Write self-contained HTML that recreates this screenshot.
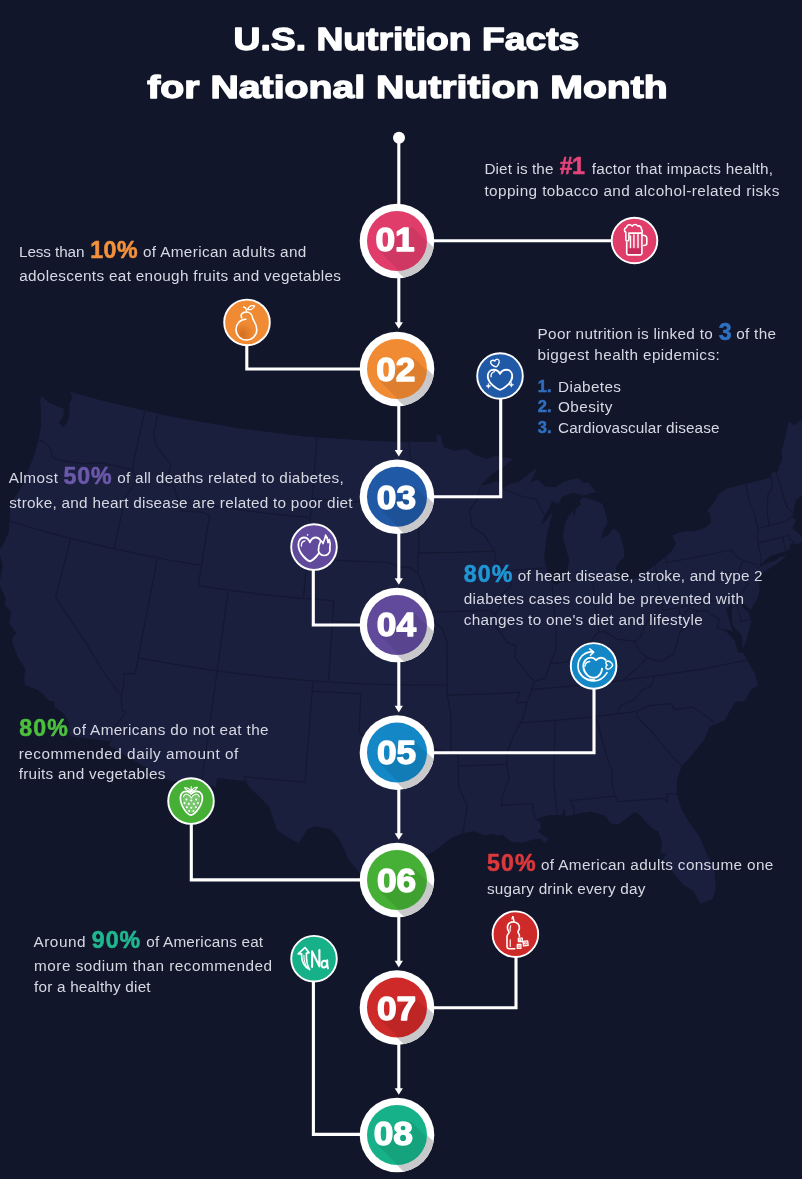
<!DOCTYPE html>
<html><head><meta charset="utf-8"><title>U.S. Nutrition Facts</title>
<style>
html,body{margin:0;padding:0;background:#12162b;}
body{width:802px;height:1179px;overflow:hidden;font-family:"Liberation Sans",sans-serif;}
svg{display:block;will-change:transform;font-family:"Liberation Sans",sans-serif;}
.t{fill:#d6d8e2;font-size:15.3px;}
.b{font-weight:bold;font-size:23.2px;stroke-width:0.55px;stroke-linejoin:round;}
.n{fill:#fff;stroke:#fff;stroke-width:1.3px;stroke-linejoin:round;font-weight:bold;font-size:32.4px;}
.h{fill:#fff;stroke:#fff;stroke-width:1.3px;stroke-linejoin:round;font-weight:bold;font-size:31.5px;}
</style></head><body>
<svg width="802" height="1179" viewBox="0 0 802 1179">
<rect width="802" height="1179" fill="#12162b"/>
<g fill="#1b1f3e"><path d="M41.5 396.2 L48.4 402.1 L57.2 406.2 L63.5 408.7 L63.5 416.0 L58.7 422.9 L63.1 427.3 L68.0 420.4 L69.8 411.5 L69.1 404.0 L72.4 397.7 L70.1 391.8 L106.1 401.7 L171.6 416.7 L237.8 428.3 L304.5 436.4 L371.5 441.0 L411.8 442.0 L436.6 442.0 L436.6 434.5 L440.6 435.6 L443.4 447.0 L455.0 450.7 L466.4 449.0 L475.4 455.1 L486.5 459.2 L495.9 455.7 L506.9 457.9 L513.2 459.1 L503.4 466.7 L491.4 474.4 L480.1 486.0 L491.8 483.1 L497.3 480.8 L502.6 488.3 L510.0 484.0 L519.5 481.4 L528.7 474.0 L537.2 467.9 L532.5 477.8 L530.1 482.4 L537.5 479.4 L545.1 486.4 L555.7 487.2 L564.2 481.5 L577.8 477.9 L584.1 483.3 L588.2 482.2 L591.6 486.8 L595.7 491.4 L600.7 491.7 L590.9 493.0 L583.9 495.5 L572.5 492.7 L562.3 496.6 L558.0 503.8 L552.1 501.3 L548.6 508.7 L544.6 515.6 L540.7 525.6 L546.7 520.0 L553.0 510.7 L549.3 524.9 L547.2 533.2 L545.6 543.5 L544.1 556.9 L546.7 569.9 L550.7 580.8 L555.6 585.0 L561.3 582.0 L566.5 574.2 L569.3 560.6 L566.7 550.7 L562.9 537.8 L565.1 523.4 L568.6 515.9 L573.1 510.7 L573.9 518.4 L575.7 509.0 L580.9 504.3 L579.7 500.4 L583.9 497.3 L591.7 499.4 L602.3 503.7 L604.5 509.5 L607.7 522.4 L603.6 530.1 L601.0 538.6 L607.3 535.7 L613.6 528.3 L619.4 533.0 L623.9 548.8 L624.3 556.9 L619.0 562.2 L616.3 566.3 L615.8 571.4 L612.7 576.6 L623.1 580.7 L632.1 579.4 L639.3 577.3 L650.1 568.4 L660.9 560.5 L671.4 551.5 L675.9 543.4 L672.3 535.4 L682.7 531.4 L693.1 531.5 L704.4 528.2 L710.8 522.8 L710.4 513.9 L706.8 511.0 L713.9 502.8 L719.2 493.4 L726.2 488.7 L745.7 484.1 L771.2 477.3 L771.5 473.0 L778.9 470.4 L778.7 466.9 L782.4 459.0 L781.3 449.9 L783.5 444.7 L788.7 421.5 L794.6 425.2 L801.6 419.8 L809.9 423.4 L816.8 444.8 L823.3 450.2 L825.8 458.3 L833.6 461.8 L827.8 472.1 L819.6 479.8 L811.2 479.2 L810.0 488.0 L801.6 495.6 L796.0 499.9 L793.2 511.7 L792.4 517.1 L796.3 520.3 L792.2 527.7 L799.3 534.2 L802.4 536.9 L808.9 535.1 L806.8 530.4 L804.4 530.3 L809.7 532.4 L811.0 536.9 L801.6 542.4 L795.2 544.8 L790.2 543.6 L790.1 548.9 L785.1 551.2 L770.2 556.1 L760.5 564.5 L756.7 571.2 L757.9 576.2 L759.7 590.4 L756.9 599.0 L750.6 609.7 L743.6 603.5 L738.5 598.3 L743.0 607.8 L748.9 612.8 L751.3 622.0 L746.7 639.3 L742.8 649.1 L741.7 635.2 L732.2 624.7 L732.0 612.2 L732.4 602.8 L725.8 609.4 L727.8 615.2 L731.1 627.0 L733.4 631.9 L723.4 628.6 L734.8 640.8 L738.1 652.6 L743.1 653.0 L747.1 660.1 L755.1 674.0 L758.0 685.2 L751.0 690.1 L744.5 701.2 L735.1 702.1 L724.3 720.4 L709.4 726.7 L704.7 738.9 L696.3 749.6 L688.5 759.2 L681.8 765.8 L677.0 779.5 L676.6 793.9 L678.6 800.7 L681.7 809.5 L689.1 822.6 L699.4 836.3 L705.6 851.5 L714.3 868.4 L715.7 887.9 L712.6 899.1 L700.2 903.7 L693.5 891.0 L684.3 885.4 L677.7 878.2 L673.2 872.8 L667.4 863.9 L663.0 859.1 L666.8 853.5 L660.4 853.3 L662.4 841.9 L658.2 831.3 L653.5 829.3 L646.4 822.7 L640.0 814.8 L634.4 812.1 L628.8 816.8 L618.2 824.2 L611.0 823.6 L604.9 815.5 L590.4 811.4 L578.3 813.5 L566.3 816.2 L563.9 808.3 L561.9 815.0 L548.7 815.0 L539.3 817.7 L536.9 820.5 L540.6 822.7 L540.9 828.3 L537.6 831.6 L548.8 838.9 L545.5 843.2 L539.9 838.5 L531.1 840.1 L524.2 842.5 L513.6 842.5 L508.1 839.4 L502.6 834.6 L497.4 835.8 L492.9 834.0 L485.0 835.3 L474.3 831.2 L463.0 832.9 L453.4 837.1 L446.4 841.3 L437.6 848.8 L425.2 856.5 L417.2 860.5 L409.1 866.5 L403.6 873.5 L399.9 881.5 L400.3 891.5 L404.1 906.6 L404.1 908.4 L397.6 909.9 L384.9 905.8 L368.6 898.8 L362.8 881.5 L362.1 875.5 L348.4 859.8 L345.2 851.6 L338.8 838.2 L330.5 829.2 L314.9 826.1 L307.6 829.2 L298.7 843.1 L284.2 835.5 L276.8 829.4 L273.3 819.3 L269.2 806.8 L259.7 797.1 L250.3 788.2 L245.5 781.3 L216.9 777.9 L215.8 786.9 L166.9 779.9 L108.4 745.3 L110.6 741.2 L70.0 736.5 L68.8 729.6 L69.2 722.4 L63.5 713.7 L57.0 708.7 L54.5 706.8 L54.3 701.8 L48.7 700.4 L42.6 693.7 L36.9 689.5 L24.8 685.3 L24.2 675.7 L25.6 670.8 L22.9 664.8 L18.1 657.8 L12.1 642.8 L13.0 636.7 L16.7 632.5 L13.4 629.4 L9.4 623.0 L10.9 611.8 L4.7 604.7 L5.7 598.6 L-0.6 584.0 L1.5 571.9 L2.8 564.8 L-1.7 550.7 L3.3 544.8 L8.9 531.6 L9.0 526.3 L10.1 514.9 L10.5 503.8 L17.4 493.8 L23.7 483.0 L27.9 470.9 L34.6 454.6 L38.4 439.9 L40.0 432.0 L41.1 426.1 L41.0 412.4 L40.1 400.1Z"/><path d="M756.8 573.7 L763.2 572.2 L778.1 562.9 L786.4 556.2 L779.7 556.8 L775.3 560.9 L768.7 562.7 L759.6 567.0 L757.5 570.0Z"/></g>
<path fill="none" stroke="#141831" stroke-width="1.2" stroke-linejoin="round" d="M38.4 439.9 L46.1 443.3 L51.4 450.1 L51.8 456.5 L58.8 460.2 L72.9 462.4 L82.8 463.6 L96.1 462.9 L104.7 463.4 L133.2 470.1M144.9 411.0 L133.6 461.5 L133.2 470.1 L136.1 481.0 L129.6 491.0 L122.2 500.7 L122.1 512.1 L113.9 548.7M9.0 521.0 L40.7 530.3 L72.5 538.8 L104.5 546.6 L136.7 553.7 L169.0 560.0 L201.5 565.5M70.8 538.4 L55.5 597.5 L81.6 636.4 L103.3 671.5 L121.1 696.0M157.4 557.8 L135.1 673.8 L123.6 673.6 L123.6 686.1 L121.1 696.0 L122.1 710.7 L126.0 712.1 L118.1 722.4 L113.2 729.7 L110.6 741.2M138.2 657.8 L172.1 663.9 L206.3 669.3 L240.5 673.9 L274.8 677.7 L309.2 680.7 L343.7 682.9 L378.2 684.4 L412.7 685.0 L447.3 684.9M228.3 590.1 L201.3 785.0M209.5 515.5 L198.3 585.6 L232.0 590.6 L265.8 594.8 L299.7 598.1 L333.7 600.7M157.8 413.9 L153.6 433.4 L156.0 445.2 L164.8 457.2 L171.1 464.6 L165.0 485.0 L173.5 485.6 L177.0 497.5 L181.9 510.8 L192.0 511.5 L203.5 512.4 L209.5 515.5M211.1 505.5 L244.1 510.3 L277.2 514.4 L310.4 517.6M317.2 437.5 L303.5 598.4M333.7 600.7 L328.5 682.0M313.3 681.0 L312.2 691.1 L305.0 782.3 L244.3 776.7 L245.5 781.3M312.2 691.1 L360.8 693.9 L359.1 733.4 L372.1 740.2 L383.7 743.6 L393.5 748.3 L405.2 750.1 L416.9 750.6 L433.5 748.6 L450.3 753.1 L458.0 755.0 L458.7 786.4 L463.0 796.5 L467.5 806.5 L464.9 820.7 L463.0 832.9M312.0 498.7 L347.0 501.2 L382.2 502.8 L417.3 503.4M306.9 557.9 L347.6 560.8 L388.4 562.5 L397.2 566.3 L410.4 567.9 L417.8 573.1M332.4 621.0 L366.9 622.8 L401.4 623.8 L435.9 623.9M408.7 442.0 L410.2 458.0 L414.2 476.1 L414.7 490.1 L417.3 503.4 L413.2 510.3 L418.8 516.4 L418.6 552.8 L417.8 573.1 L423.7 587.3 L426.7 599.5 L427.5 611.7 L435.9 623.9 L442.1 627.9 L447.0 641.7 L447.4 695.1 L450.9 717.5 L450.6 753.3M418.6 552.8 L456.8 552.4 L495.0 551.1M428.7 612.1 L459.5 611.3 L490.2 610.3 L495.1 614.5M447.4 695.1 L483.4 694.2 L519.4 692.4 L516.4 702.8 L527.3 702.1M458.2 766.2 L506.6 764.4M480.2 487.0 L477.2 499.2 L469.8 509.6 L471.8 526.7 L484.4 535.3 L494.5 551.1 L495.8 561.2 L504.4 570.9 L512.0 584.7 L499.8 596.6 L499.7 607.8 L495.1 614.5 L494.4 624.4 L506.9 642.1 L515.7 645.6 L514.9 657.9 L528.7 675.4 L534.7 681.2 L531.4 691.6 L527.3 702.1 L522.4 720.2 L514.4 733.5 L507.1 752.2 L506.6 764.4 L509.3 778.5 L502.5 795.1 L501.2 805.3 L533.5 803.5 L532.8 811.6 L536.9 819.9M503.3 488.9 L522.0 496.3 L536.4 499.3 L541.6 510.4 L544.6 515.6M504.4 570.9 L546.6 567.9M551.9 582.5 L556.3 631.4 L555.9 648.8 L551.5 661.4 L550.1 663.6M534.7 681.2 L544.9 678.3 L550.1 663.6 L565.9 662.2 L574.9 657.2 L586.0 649.9 L590.5 640.8 L598.6 632.1 L604.3 631.4 L617.1 639.1 L634.8 641.4 L640.5 636.9 L645.6 623.7 L657.7 611.1 L659.7 591.8M598.8 632.1 L592.5 579.5M556.8 582.1 L592.4 578.3 L612.7 576.6M530.5 689.6 L572.0 686.2 L613.4 681.6 L654.7 676.0 L700.9 669.3 L746.8 660.2M518.8 723.0 L558.1 720.2 L597.3 716.3 L636.5 711.5M654.7 676.2 L651.0 686.4 L641.7 690.2 L634.8 699.4 L620.8 705.3 L616.6 714.1M553.2 720.6 L555.0 722.5 L553.8 783.7 L557.5 814.9M595.7 716.5 L607.5 758.8 L611.9 769.9 L612.4 786.2 L614.9 796.1 L618.0 801.8 L641.6 799.9 L664.2 798.4 L667.4 802.4 L667.0 793.7 L676.6 793.9M570.2 800.7 L614.9 796.1M570.2 800.7 L574.4 808.4 L573.2 814.6M681.8 765.8 L671.6 755.7 L661.1 742.9 L646.9 726.5 L637.2 716.5 L636.5 711.5 L648.9 705.6 L669.3 703.6 L671.4 704.3 L674.4 709.6 L692.9 706.9 L714.5 722.2M622.8 680.4 L637.0 668.2 L647.2 657.7 L639.4 651.4 L634.8 641.4M647.2 657.7 L660.2 661.7 L673.6 654.4 L680.1 631.6 L691.2 624.4 L696.9 610.9 L706.8 610.7 L711.0 614.4 L719.1 619.1 L716.9 627.8 L723.6 629.6 L733.4 631.9M654.2 558.5 L662.8 610.3 L698.7 604.0 L734.4 596.7 L741.2 621.5 L751.2 619.5M678.6 607.6 L680.4 618.1 L689.3 608.2 L696.9 610.9M734.4 596.7 L736.7 593.7 L739.6 593.9M665.5 557.2 L666.4 562.6 L698.8 556.7 L731.0 550.0 L737.1 556.9 L743.3 560.5 L738.7 569.5 L739.1 576.3 L747.9 583.7 L743.2 591.0 L738.5 598.3M743.3 560.5 L756.8 565.0M760.5 564.5 L761.2 557.6 L757.8 542.8 L757.6 528.2 L753.8 511.3 L749.8 504.0 L745.7 484.1M757.9 543.2 L788.4 535.4 L789.1 538.0 L792.8 541.6 L794.9 544.9M782.4 537.2 L785.6 549.4 L785.1 551.2M757.7 528.6 L785.9 521.4 L790.8 516.9 L792.3 516.7M769.3 525.7 L767.3 514.3 L767.6 503.7 L767.7 495.3 L772.5 487.8 L771.2 477.3M792.6 512.2 L786.9 507.0 L781.5 489.6 L775.5 470.3"/>
<text class="h" x="233.6" y="50.3" textLength="345.7" lengthAdjust="spacingAndGlyphs">U.S. Nutrition Facts</text>
<text class="h" x="147.3" y="97.8" textLength="520.5" lengthAdjust="spacingAndGlyphs">for National Nutrition Month</text>
<g stroke="#fff" stroke-width="3.1" fill="none" stroke-linejoin="miter">
<path d="M398.8 137.7V241.0"/>
<path d="M398.8 241.0V323.1"/>
<path d="M398.8 369.0V450.9"/>
<path d="M398.8 496.8V579.1"/>
<path d="M398.8 625.0V706.7"/>
<path d="M398.8 752.6V834.1"/>
<path d="M398.8 880.0V961.7"/>
<path d="M398.8 1007.6V1089.1"/>
<path d="M397.0 240.7H634.5"/>
<path d="M246.8 322.4V369.0H397.0"/>
<path d="M313.3 547.1V625.0H397.0"/>
<path d="M191.3 801.1V879.9H397.0"/>
<path d="M313.4 958.7V1134.4H397.0"/>
<path d="M397.0 496.8H500.7V376.0"/>
<path d="M397.0 752.7H594.0V665.9"/>
<path d="M397.0 1007.8H516.0V934.2"/>
</g>
<circle cx="399" cy="137.7" r="6" fill="#fff"/>
<path fill="#fff" d="M394.7 322.2H402.90000000000003L398.8 328.8Z"/>
<path fill="#fff" d="M394.7 450.0H402.90000000000003L398.8 456.6Z"/>
<path fill="#fff" d="M394.7 578.2H402.90000000000003L398.8 584.8Z"/>
<path fill="#fff" d="M394.7 705.8H402.90000000000003L398.8 712.4Z"/>
<path fill="#fff" d="M394.7 833.2H402.90000000000003L398.8 839.8Z"/>
<path fill="#fff" d="M394.7 960.8H402.90000000000003L398.8 967.4Z"/>
<path fill="#fff" d="M394.7 1088.2H402.90000000000003L398.8 1094.8Z"/>
<defs>
<clipPath id="co0"><circle cx="397.0" cy="241.0" r="37.3"/></clipPath><clipPath id="ci0"><circle cx="397.0" cy="241.0" r="30"/></clipPath>
<clipPath id="co1"><circle cx="397.0" cy="369.0" r="37.3"/></clipPath><clipPath id="ci1"><circle cx="397.0" cy="369.0" r="30"/></clipPath>
<clipPath id="co2"><circle cx="397.0" cy="496.8" r="37.3"/></clipPath><clipPath id="ci2"><circle cx="397.0" cy="496.8" r="30"/></clipPath>
<clipPath id="co3"><circle cx="397.0" cy="625.0" r="37.3"/></clipPath><clipPath id="ci3"><circle cx="397.0" cy="625.0" r="30"/></clipPath>
<clipPath id="co4"><circle cx="397.0" cy="752.6" r="37.3"/></clipPath><clipPath id="ci4"><circle cx="397.0" cy="752.6" r="30"/></clipPath>
<clipPath id="co5"><circle cx="397.0" cy="880.0" r="37.3"/></clipPath><clipPath id="ci5"><circle cx="397.0" cy="880.0" r="30"/></clipPath>
<clipPath id="co6"><circle cx="397.0" cy="1007.6" r="37.3"/></clipPath><clipPath id="ci6"><circle cx="397.0" cy="1007.6" r="30"/></clipPath>
<clipPath id="co7"><circle cx="397.0" cy="1135.0" r="37.3"/></clipPath><clipPath id="ci7"><circle cx="397.0" cy="1135.0" r="30"/></clipPath>
</defs>
<circle cx="397.0" cy="241.0" r="37.3" fill="#fff"/>
<path clip-path="url(#co0)" fill="#c9c9cb" d="M427.0 241.0l40 40l-30 30l-40 -40Z"/>
<circle cx="397.0" cy="241.0" r="30" fill="#e03d6b"/>
<path clip-path="url(#ci0)" fill="#000" fill-opacity="0.08" d="M412.5 227.1l45 45l-34 23l-45 -45Z"/>
<text class="n" x="375.4" y="250.5" textLength="39.2" lengthAdjust="spacingAndGlyphs">01</text>
<circle cx="397.0" cy="369.0" r="37.3" fill="#fff"/>
<path clip-path="url(#co1)" fill="#c9c9cb" d="M427.0 369.0l40 40l-30 30l-40 -40Z"/>
<circle cx="397.0" cy="369.0" r="30" fill="#f08a33"/>
<path clip-path="url(#ci1)" fill="#000" fill-opacity="0.08" d="M413.3 357.5l45 45l-34 23l-45 -45Z"/>
<text class="n" x="376.2" y="380.9" textLength="39.2" lengthAdjust="spacingAndGlyphs">02</text>
<circle cx="397.0" cy="496.8" r="37.3" fill="#fff"/>
<path clip-path="url(#co2)" fill="#c9c9cb" d="M427.0 496.8l40 40l-30 30l-40 -40Z"/>
<circle cx="397.0" cy="496.8" r="30" fill="#205aa7"/>
<path clip-path="url(#ci2)" fill="#000" fill-opacity="0.08" d="M413.9 485.7l45 45l-34 23l-45 -45Z"/>
<text class="n" x="376.8" y="509.1" textLength="39.2" lengthAdjust="spacingAndGlyphs">03</text>
<circle cx="397.0" cy="625.0" r="37.3" fill="#fff"/>
<path clip-path="url(#co3)" fill="#c9c9cb" d="M427.0 625.0l40 40l-30 30l-40 -40Z"/>
<circle cx="397.0" cy="625.0" r="30" fill="#614a9c"/>
<path clip-path="url(#ci3)" fill="#000" fill-opacity="0.08" d="M413.9 612.4l45 45l-34 23l-45 -45Z"/>
<text class="n" x="376.8" y="635.8" textLength="39.2" lengthAdjust="spacingAndGlyphs">04</text>
<circle cx="397.0" cy="752.6" r="37.3" fill="#fff"/>
<path clip-path="url(#co4)" fill="#c9c9cb" d="M427.0 752.6l40 40l-30 30l-40 -40Z"/>
<circle cx="397.0" cy="752.6" r="30" fill="#1487c6"/>
<path clip-path="url(#ci4)" fill="#000" fill-opacity="0.08" d="M414.1 740.7l45 45l-34 23l-45 -45Z"/>
<text class="n" x="377.0" y="764.1" textLength="39.2" lengthAdjust="spacingAndGlyphs">05</text>
<circle cx="397.0" cy="880.0" r="37.3" fill="#fff"/>
<path clip-path="url(#co5)" fill="#c9c9cb" d="M427.0 880.0l40 40l-30 30l-40 -40Z"/>
<circle cx="397.0" cy="880.0" r="30" fill="#45b035"/>
<path clip-path="url(#ci5)" fill="#000" fill-opacity="0.08" d="M414.1 868.2l45 45l-34 23l-45 -45Z"/>
<text class="n" x="377.0" y="891.6" textLength="39.2" lengthAdjust="spacingAndGlyphs">06</text>
<circle cx="397.0" cy="1007.6" r="37.3" fill="#fff"/>
<path clip-path="url(#co6)" fill="#c9c9cb" d="M427.0 1007.6l40 40l-30 30l-40 -40Z"/>
<circle cx="397.0" cy="1007.6" r="30" fill="#cf2a2a"/>
<path clip-path="url(#ci6)" fill="#000" fill-opacity="0.08" d="M414.0 996.5l45 45l-34 23l-45 -45Z"/>
<text class="n" x="376.9" y="1019.9" textLength="39.2" lengthAdjust="spacingAndGlyphs">07</text>
<circle cx="397.0" cy="1135.0" r="37.3" fill="#fff"/>
<path clip-path="url(#co7)" fill="#c9c9cb" d="M427.0 1135.0l40 40l-30 30l-40 -40Z"/>
<circle cx="397.0" cy="1135.0" r="30" fill="#17b189"/>
<path clip-path="url(#ci7)" fill="#000" fill-opacity="0.08" d="M410.8 1121.2l45 45l-34 23l-45 -45Z"/>
<text class="n" x="373.7" y="1144.6" textLength="39.2" lengthAdjust="spacingAndGlyphs">08</text>
<circle cx="634.5" cy="240.5" r="22.8" fill="#e03d6b" stroke="#fff" stroke-width="1.9"/>
<circle cx="247.0" cy="322.4" r="22.8" fill="#f08a33" stroke="#fff" stroke-width="1.9"/>
<circle cx="500.0" cy="376.0" r="22.8" fill="#205aa7" stroke="#fff" stroke-width="1.9"/>
<circle cx="314.0" cy="547.1" r="22.8" fill="#614a9c" stroke="#fff" stroke-width="1.9"/>
<circle cx="593.6" cy="665.9" r="22.8" fill="#1487c6" stroke="#fff" stroke-width="1.9"/>
<circle cx="191.0" cy="801.1" r="22.8" fill="#45b035" stroke="#fff" stroke-width="1.9"/>
<circle cx="515.4" cy="934.2" r="22.8" fill="#cf2a2a" stroke="#fff" stroke-width="1.9"/>
<circle cx="314.0" cy="958.7" r="22.8" fill="#17b189" stroke="#fff" stroke-width="1.9"/>
<g transform="translate(634.5,240.5)" fill="none" stroke="#fff" stroke-width="1.5" stroke-linecap="round" stroke-linejoin="round">
<path d="M-7.3,8h14v4.8a1.5,1.5 0 0 1 -1.5,1.5h-11a1.5,1.5 0 0 1 -1.5,-1.5z" fill="#c42a5a" stroke="none"/>
<path d="M-7.8,2V12.6a1.8,1.8 0 0 0 1.8,1.8H5.6a1.8,1.8 0 0 0 1.8,-1.8V-7.8" stroke-width="1.6"/>
<path d="M7.4,-5.2C10,-5.6 12.3,-4.6 12.3,-2.4V3C12.3,4.6 10.5,5 9.2,5" stroke-width="1.6"/>
<path d="M-4,-4.6V7M-0.6,-5.6V7M3.5,-6.2V7" stroke-width="1.4"/>
<path d="M-5.6,-7.4v6.4a1.55,1.55 0 0 1 -3.1,0V-8.2a2.6,2.6 0 0 1 0.6,-4.8a3.2,3.2 0 0 1 5.8,-1.4a3.3,3.3 0 0 1 5.6,0a2.8,2.8 0 0 1 3.6,3.4a2,2 0 0 1 -0.6,3.6H-5.6" stroke-width="1.6"/>
</g>
<g transform="translate(247.0,322.4)" fill="none" stroke="#fff" stroke-width="1.5" stroke-linecap="round" stroke-linejoin="round">
<defs><radialGradient id="pg" cx="0.3" cy="0.75" r="0.6"><stop offset="0" stop-color="#c9661a" stop-opacity="0.75"/><stop offset="1" stop-color="#c9661a" stop-opacity="0"/></radialGradient></defs>
<circle cx="-0.7" cy="7.2" r="9.6" fill="url(#pg)" stroke="none"/>
<path d="M-5.2,-4.5C-7.2,-7.5 -4.5,-10.4 -0.8,-10.4C3,-10.4 5.3,-7.5 5.6,-4.5C5.9,-1.5 9.8,1 9.8,7C9.8,13 5.2,17.6 -0.6,17.6C-6.4,17.6 -11,13 -11,7.2C-11,1.5 -6.8,-3.2 -1.1,-3.2" stroke-width="1.6"/>
<path d="M-0.4,-10.4C-0.4,-12.2 -0.8,-13.6 -1.6,-14.6L-3.4,-15.6" stroke-width="1.4"/>
<path d="M0.6,-13C2,-16.2 5,-17.2 7.6,-16.5C6.4,-13.5 3.2,-12.3 0.6,-13Z" stroke-width="1.3"/>
</g>
<g transform="translate(500.0,376.0)" fill="none" stroke="#fff" stroke-width="1.5" stroke-linecap="round" stroke-linejoin="round">
<path transform="translate(0,1.8) scale(1.02,1)" d="M0,12C-2,11.6 -12,6 -12,-1.8C-12,-6 -9,-8 -6.2,-8C-3.2,-8 -1,-6 0,-4C1,-6 3.2,-8 6.2,-8C9,-8 12,-6 12,-1.8C12,6 2,11.6 0,12Z" stroke-width="1.85"/>
<path d="M-9,0.8C-9.2,-2.3 -7.6,-4 -5.4,-4.4" stroke-width="1.3"/>
<path transform="translate(-4.9,-13.4) rotate(-14) scale(0.36)" d="M0,12C-2,11.6 -12,6 -12,-1.8C-12,-6 -9,-8 -6.2,-8C-3.2,-8 -1,-6 0,-4C1,-6 3.2,-8 6.2,-8C9,-8 12,-6 12,-1.8C12,6 2,11.6 0,12Z" stroke-width="3.6"/>
<path transform="translate(-11.6,10)" d="M0,-2.4L0.65,-0.65L2.4,0L0.65,0.65L0,2.4L-0.65,0.65L-2.4,0L-0.65,-0.65Z" fill="#fff" stroke-width="0.5"/><path transform="translate(11.3,8.8)" d="M0,-2.4L0.65,-0.65L2.4,0L0.65,0.65L0,2.4L-0.65,0.65L-2.4,0L-0.65,-0.65Z" fill="#fff" stroke-width="0.5"/>
</g>
<g transform="translate(314.0,547.1)" fill="none" stroke="#fff" stroke-width="1.5" stroke-linecap="round" stroke-linejoin="round">
<path transform="translate(-4.1,-0.1) scale(0.965,1.19)" d="M0,12C-2,11.6 -12,6 -12,-1.8C-12,-6 -9,-8 -6.2,-8C-3.2,-8 -1,-6 0,-4C1,-6 3.2,-8 6.2,-8C9,-8 12,-6 12,-1.8C12,6 2,11.6 0,12Z" stroke-width="1.8"/>
<path d="M-12.6,-1C-12.8,-4.4 -11.2,-6 -9,-6.3" stroke-width="1.3"/>
<circle cx="10.2" cy="2.6" r="5.8" fill="#614a9c" stroke-width="1.7"/>
<path d="M4.6,1C4.8,-3 6.3,-4 6.8,-6.5C8.3,-5.5 8.8,-4.5 9,-3.5C9.8,-6.5 11.3,-8.5 11.6,-12C13.8,-9.5 13.8,-6.5 14,-4.5C14.8,-5.3 15.1,-6.6 15.3,-7.6C16.2,-5 16.4,-1.5 15.8,1" fill="#614a9c" stroke-width="1.6"/>
<path d="M-6.4,-12.3v0.1" stroke-width="1.5"/>
</g>
<g transform="translate(593.6,665.9)" fill="none" stroke="#fff" stroke-width="1.5" stroke-linecap="round" stroke-linejoin="round">
<path d="M-0.3,-13.9C-9,-14.8 -15.8,-8 -15.6,0.5C-15.3,9 -8,15 0,15C5.5,15 10.5,11.5 13.5,6.7" stroke-width="1.6"/>
<path d="M-3.9,-17L0.1,-13.8L-3.1,-10.6" stroke-width="1.6"/>
<path d="M-14.3,5.5C-11,11.5 -5,14.2 1,13.2" stroke-width="1.1"/>
<path d="M12,-6C10,-8.6 5.5,-9.2 2.4,-5.8C0,-8.8 -5,-9.3 -8,-6C-11.5,-2 -11,5 -6,9.5C-2,13 4,12.5 7,7.5C8,5.8 8.4,4.2 8.4,2.8" stroke-width="1.9"/>
<path d="M-8.6,0.4C-8.4,-2.4 -6.4,-4.2 -3.9,-4.4" stroke-width="1.3"/>
<path transform="translate(15,-0.8) rotate(-90) scale(0.34)" d="M0,12C-2,11.6 -12,6 -12,-1.8C-12,-6 -9,-8 -6.2,-8C-3.2,-8 -1,-6 0,-4C1,-6 3.2,-8 6.2,-8C9,-8 12,-6 12,-1.8C12,6 2,11.6 0,12Z" stroke-width="4.2"/>
</g>
<g transform="translate(191.0,801.1)" fill="none" stroke="#fff" stroke-width="1.5" stroke-linecap="round" stroke-linejoin="round">
<path d="M0,14C-5,13 -11,3 -10.5,-4C-10.2,-8.5 -6.5,-10.3 -3.5,-9.6C-1.8,-9.2 -0.6,-8.3 0.3,-7.2C1.2,-8.3 2.6,-9.2 4.3,-9.6C7.3,-10.3 11,-8.5 11.3,-4C11.8,3 5,13 0,14Z" stroke-width="1.8"/>
<path d="M0,12.2C-4.5,11 -9,3 -8.6,-3.5C-8,-7 -4.5,-7.5 -3,-6.5C-1.5,-5.8 -0.3,-4.5 0.3,-3C0.9,-4.5 2.2,-5.8 3.7,-6.5C5.2,-7.5 8.7,-7 9.3,-3.5C9.7,3 4.5,11 0,12.2Z" fill="#fff" fill-opacity="0.28" stroke="none"/>
<path d="M-7.5,-4.5C-7,-7 -4.5,-7.5 -3,-6.5C-1.5,-5.8 -0.3,-4.5 0.3,-3C0.9,-4.5 2.2,-5.8 3.7,-6.5C5.2,-7.5 7.7,-7 8.2,-4.5" stroke-width="1.1"/>
<path d="M0.2,-9.5C-1,-11.8 -3.6,-13.6 -6.5,-13.3C-5.5,-11.5 -3,-10.3 0.2,-9.5C3.4,-10.3 5.5,-11.7 6.3,-13.8C3.5,-13.9 1.2,-12 0.2,-9.5ZM0.2,-10v-4.5" stroke-width="1.1"/>
<g stroke="none" fill="#fff"><circle cx="-4.6" cy="-1.6" r="1.05"/><circle cx="0.3" cy="-0.6" r="1.05"/><circle cx="5.2" cy="-1.6" r="1.05"/><circle cx="-6.5" cy="2" r="1.05"/><circle cx="-2.2" cy="2.8" r="1.05"/><circle cx="2.8" cy="2.8" r="1.05"/><circle cx="7" cy="2" r="1.05"/><circle cx="-4.2" cy="6.2" r="1.05"/><circle cx="0.3" cy="6.6" r="1.05"/><circle cx="4.8" cy="6.2" r="1.05"/><circle cx="-1.8" cy="10" r="1.05"/><circle cx="2.4" cy="10" r="1.05"/></g>
</g>
<g transform="translate(515.4,934.2)" fill="none" stroke="#fff" stroke-width="1.5" stroke-linecap="round" stroke-linejoin="round">
<path d="M-2.6,-17.4C-2.2,-15.8 -1.4,-14 -1.4,-12.2" stroke-width="1.6"/>
<path d="M-3.4,-15.2C-3.4,-16.4 -3,-17.2 -2.6,-17.6" stroke-width="1.2"/>
<path d="M-3.5,-12.2C-5.8,-11.6 -8,-10 -8,-6.5C-8,-4 -6.4,-3.2 -6.4,-1.8C-6.4,-0.4 -8.4,0 -8.4,2V12.4a2.2,2.2 0 0 0 2.2,2.2H-0.6" stroke-width="1.6"/>
<path d="M-3.6,-12.2H-1C1.6,-11.6 4,-10 4,-6.2C4,-4.2 2.6,-3.4 2.6,-2.2C2.6,-1 4,-0.4 4,1.2V2.2" stroke-width="1.6"/>
<path d="M-4.6,-8.4C-5.4,-7 -5.6,-5 -5.2,-3" stroke-width="1.1"/>
<path d="M-5.2,5.6V12.2" stroke-width="1.1"/>
<rect x="3" y="3.9" width="3.9" height="3.6" stroke-width="1.3"/>
<rect x="4.3" y="5.1" width="1.3" height="1.2" stroke-width="0.9"/>
<rect x="7.9" y="6.9" width="4.6" height="4.6" stroke-width="1.3" transform="rotate(-6 10.2 9.2)"/>
<rect x="9.5" y="8.4" width="1.5" height="1.5" stroke-width="0.9"/>
<rect x="1.9" y="10.2" width="3.6" height="4" stroke-width="1.3"/>
<rect x="3.1" y="11.5" width="1.2" height="1.3" stroke-width="0.9"/>
</g>
<g transform="translate(314.0,958.7)" fill="none" stroke="#fff" stroke-width="1.5" stroke-linecap="round" stroke-linejoin="round">
<path d="M-12.4,-4.9H-15.8L-9,-11.2L-4.9,-6L-7.6,-5.4" stroke-width="1.7"/>
<path d="M-12.5,-4.8C-12.6,2 -10,8 -4.3,10.9C-7,7 -7.8,2 -7.6,-5.2" stroke-width="1.6"/>
<path d="M-10.1,-3.4C-10.1,2 -9,6 -6.8,8.8" stroke-width="1.1"/>
<path d="M-1.9,8.2V-7.3L5.4,7.6V-8.6" stroke-width="2.1"/>
<path d="M13.2,4.4C12,0.8 7.6,1.2 7.5,5.6C7.4,9.8 11.8,9.8 13.2,6V1.6C13.2,5 13.3,8 14,9.6" stroke-width="2"/>
</g>

<text class="t" x="484.4" y="173.5" textLength="69.1" lengthAdjust="spacing">Diet is the</text>
<text class="t b" x="559.8" y="174.3" textLength="25.2" lengthAdjust="spacing" style="fill:#e5447a;stroke:#e5447a">#1</text>
<text class="t" x="591.7" y="173.5" textLength="181.3" lengthAdjust="spacing">factor that impacts health,</text>
<text class="t" x="484.4" y="196.2" textLength="294.9" lengthAdjust="spacing">topping tobacco and alcohol-related risks</text>
<text class="t" x="19" y="257.4" textLength="65.5" lengthAdjust="spacing">Less than</text>
<text class="t b" x="90.3" y="258.2" textLength="47.2" lengthAdjust="spacing" style="fill:#f3913c;stroke:#f3913c">10%</text>
<text class="t" x="142.9" y="257.4" textLength="163.4" lengthAdjust="spacing">of American adults and</text>
<text class="t" x="19.2" y="281.2" textLength="321.8" lengthAdjust="spacing">adolescents eat enough fruits and vegetables</text>
<text class="t" x="537.6" y="338.8" textLength="175.1" lengthAdjust="spacing">Poor nutrition is linked to</text>
<text class="t b" x="718.7" y="339.6" textLength="13.3" lengthAdjust="spacing" style="fill:#2d70c2;stroke:#2d70c2">3</text>
<text class="t" x="736.2" y="338.8" textLength="39.8" lengthAdjust="spacing">of the</text>
<text class="t" x="537.6" y="360.2" textLength="182.1" lengthAdjust="spacing">biggest health epidemics:</text>
<text x="537.8" y="391.7" font-size="16.5" font-weight="bold" fill="#2f6fbd" stroke="#2f6fbd" stroke-width="0.5">1.</text>
<text class="t" x="558" y="391.7" textLength="63.0" lengthAdjust="spacing">Diabetes</text>
<text x="537.8" y="412.2" font-size="16.5" font-weight="bold" fill="#2f6fbd" stroke="#2f6fbd" stroke-width="0.5">2.</text>
<text class="t" x="558" y="412.2" textLength="54.3" lengthAdjust="spacing">Obesity</text>
<text x="537.8" y="432.8" font-size="16.5" font-weight="bold" fill="#2f6fbd" stroke="#2f6fbd" stroke-width="0.5">3.</text>
<text class="t" x="558" y="432.8" textLength="161.5" lengthAdjust="spacing">Cardiovascular disease</text>
<text class="t" x="8.7" y="482.9" textLength="49.3" lengthAdjust="spacing">Almost</text>
<text class="t b" x="63.6" y="483.7" textLength="47.9" lengthAdjust="spacing" style="fill:#6b58aa;stroke:#6b58aa">50%</text>
<text class="t" x="117.2" y="482.9" textLength="226.6" lengthAdjust="spacing">of all deaths related to diabetes,</text>
<text class="t" x="9.2" y="508.1" textLength="343.4" lengthAdjust="spacing">stroke, and heart disease are related to poor diet</text>
<text class="t b" x="463.7" y="582.0" textLength="48.6" lengthAdjust="spacing" style="fill:#2096d5;stroke:#2096d5">80%</text>
<text class="t" x="517.8" y="581.2" textLength="244.8" lengthAdjust="spacing">of heart disease, stroke, and type 2</text>
<text class="t" x="463.7" y="604.1" textLength="280.4" lengthAdjust="spacing">diabetes cases could be prevented with</text>
<text class="t" x="463.7" y="624.8" textLength="239.0" lengthAdjust="spacing">changes to one's diet and lifestyle</text>
<text class="t b" x="19.3" y="736.2" textLength="48.5" lengthAdjust="spacing" style="fill:#4cbf3e;stroke:#4cbf3e">80%</text>
<text class="t" x="72.8" y="735.4" textLength="195.8" lengthAdjust="spacing">of Americans do not eat the</text>
<text class="t" x="18.7" y="758.6" textLength="219.6" lengthAdjust="spacing">recommended daily amount of</text>
<text class="t" x="18.7" y="779.3" textLength="146.8" lengthAdjust="spacing">fruits and vegetables</text>
<text class="t b" x="487" y="870.7" textLength="48.6" lengthAdjust="spacing" style="fill:#dc383b;stroke:#dc383b">50%</text>
<text class="t" x="541" y="869.9" textLength="232.3" lengthAdjust="spacing">of American adults consume one</text>
<text class="t" x="487" y="893.6" textLength="158.3" lengthAdjust="spacing">sugary drink every day</text>
<text class="t" x="33.5" y="946.9" textLength="52.0" lengthAdjust="spacing">Around</text>
<text class="t b" x="91.7" y="947.7" textLength="48.5" lengthAdjust="spacing" style="fill:#20b78f;stroke:#20b78f">90%</text>
<text class="t" x="146.3" y="946.9" textLength="116.8" lengthAdjust="spacing">of Americans eat</text>
<text class="t" x="34.1" y="971.2" textLength="237.8" lengthAdjust="spacing">more sodium than recommended</text>
<text class="t" x="34.1" y="991.7" textLength="116.5" lengthAdjust="spacing">for a healthy diet</text>
</svg></body></html>
